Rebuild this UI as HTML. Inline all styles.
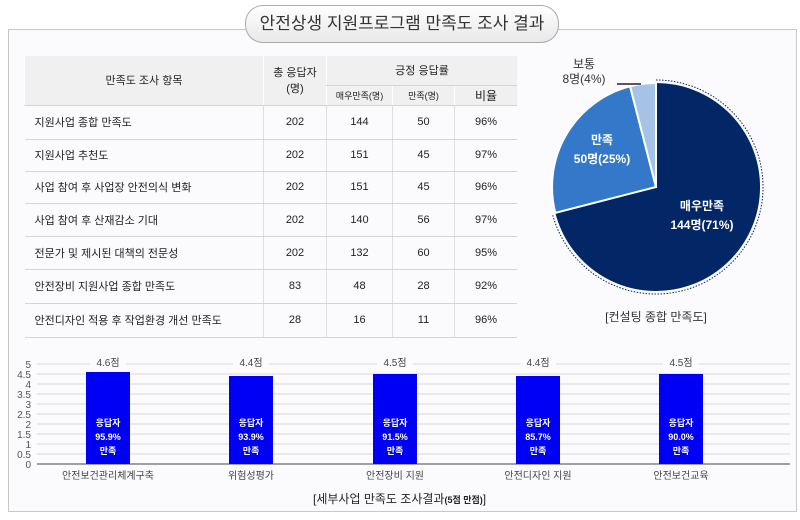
<!DOCTYPE html><html><head><meta charset="utf-8"><style>
body{margin:0;width:800px;height:520px;background:#fff;font-family:"Liberation Sans","Noto Sans CJK KR",sans-serif;position:relative;overflow:hidden}
.frame{position:absolute;left:8px;top:29px;width:787px;height:481px;border:1px solid #c8c8c8;background:#fbfbfd}
.title{position:absolute;left:245px;top:5px;width:312px;height:36px;border:1px solid #aaa;border-radius:18px;background:linear-gradient(#fff,#e8e8e8);text-align:center;line-height:36px;font-size:17px;color:#333}
table{position:absolute;left:24px;top:56px;border-collapse:collapse;font-size:11px;color:#222}
td{border-bottom:1px solid #d4d4d4;border-left:1px solid #e0e0e0;text-align:center;padding:0}
td:first-child{border-left:none}
.h td{background:#f0f0f0;border-left:1px solid #fff}
.l{text-align:left;padding-left:10px}
</style></head><body>
<div class="frame"></div>
<div class="title">안전상생 지원프로그램 만족도 조사 결과</div>
<table>
<tr class="h" style="height:29px"><td rowspan="2" style="width:238px">만족도 조사 항목</td><td rowspan="2" style="width:62px">총 응답자<br>(명)</td><td colspan="3">긍정 응답률</td></tr>
<tr class="h" style="height:20px"><td style="width:65px;font-size:9px">매우만족(명)</td><td style="width:61px;font-size:9px">만족(명)</td><td style="width:62px;font-size:12px">비율</td></tr>
<tr style="height:34px"><td class="l">지원사업 종합 만족도</td><td>202</td><td>144</td><td>50</td><td>96%</td></tr>
<tr style="height:32px"><td class="l">지원사업 추천도</td><td>202</td><td>151</td><td>45</td><td>97%</td></tr>
<tr style="height:32px"><td class="l">사업 참여 후 사업장 안전의식 변화</td><td>202</td><td>151</td><td>45</td><td>96%</td></tr>
<tr style="height:33px"><td class="l">사업 참여 후 산재감소 기대</td><td>202</td><td>140</td><td>56</td><td>97%</td></tr>
<tr style="height:33px"><td class="l">전문가 및 제시된 대책의 전문성</td><td>202</td><td>132</td><td>60</td><td>95%</td></tr>
<tr style="height:34px"><td class="l">안전장비 지원사업 종합 만족도</td><td>83</td><td>48</td><td>28</td><td>92%</td></tr>
<tr style="height:34px"><td class="l">안전디자인 적용 후 작업환경 개선 만족도</td><td>28</td><td>16</td><td>11</td><td>96%</td></tr>
</table>
<svg width="800" height="520" style="position:absolute;left:0;top:0" font-family="Liberation Sans,Noto Sans CJK KR,sans-serif">
<g transform="translate(656,187)">
<path d="M0,0 L0,-104 A104,104 0 1,1 -100.7,25.9 Z" fill="#022666"/>
<path d="M0,0 L-100.7,25.9 A104,104 0 0,1 -25.9,-100.7 Z" fill="#3479c9" stroke="#fff" stroke-width="2"/>
<path d="M0,0 L-25.9,-100.7 A104,104 0 0,1 0,-104 Z" fill="#a6c3e6" stroke="#fff" stroke-width="2"/>
<path d="M0,-107 A107,107 0 1,1 -103.6,26.7" fill="none" stroke="#022666" stroke-dasharray="1.5,1.5"/>
</g>
<text x="702" y="210" fill="#fff" font-size="12" font-weight="bold" text-anchor="middle">매우만족</text>
<text x="702" y="229" fill="#fff" font-size="12" font-weight="bold" text-anchor="middle">144명(71%)</text>
<text x="602" y="144" fill="#fff" font-size="12" font-weight="bold" text-anchor="middle">만족</text>
<text x="602" y="163" fill="#fff" font-size="12" font-weight="bold" text-anchor="middle">50명(25%)</text>
<text x="584" y="68" fill="#333" font-size="12" text-anchor="middle">보통</text>
<text x="584" y="83" fill="#333" font-size="12" text-anchor="middle">8명(4%)</text>
<line x1="617" y1="84" x2="641" y2="84" stroke="#222" stroke-width="1.5"/>
<text x="656" y="321" fill="#333" font-size="12" text-anchor="middle">[컨설팅 종합 만족도]</text>
<g stroke="#d8d8d8">
<line x1="37" x2="790" y1="364" y2="364"/><line x1="37" x2="790" y1="374" y2="374"/><line x1="37" x2="790" y1="384" y2="384"/><line x1="37" x2="790" y1="394" y2="394"/><line x1="37" x2="790" y1="404" y2="404"/><line x1="37" x2="790" y1="414" y2="414"/><line x1="37" x2="790" y1="424" y2="424"/><line x1="37" x2="790" y1="434" y2="434"/><line x1="37" x2="790" y1="444" y2="444"/><line x1="37" x2="790" y1="454" y2="454"/>
</g>
<line x1="37" x2="790" y1="464" y2="464" stroke="#444"/>
<g font-size="10" fill="#555" text-anchor="end">
<text x="31" y="368">5</text><text x="31" y="378">4.5</text><text x="31" y="388">4</text><text x="31" y="398">3.5</text><text x="31" y="408">3</text><text x="31" y="418">2.5</text><text x="31" y="428">2</text><text x="31" y="438">1.5</text><text x="31" y="448">1</text><text x="31" y="458">0.5</text><text x="31" y="468">0</text>
</g>
<g fill="#0000f5">
<rect x="86" y="372" width="44" height="92"/><rect x="229" y="376" width="44" height="88"/><rect x="373" y="374" width="44" height="90"/><rect x="516" y="376" width="44" height="88"/><rect x="659" y="374" width="44" height="90"/>
</g>
<g font-size="10" fill="#444" text-anchor="middle">
<rect x="90" y="355" width="36" height="13" fill="#fbfbfd"/><text x="108" y="366">4.6점</text>
<rect x="233" y="355" width="36" height="13" fill="#fbfbfd"/><text x="251" y="366">4.4점</text>
<rect x="377" y="355" width="36" height="13" fill="#fbfbfd"/><text x="395" y="366">4.5점</text>
<rect x="520" y="355" width="36" height="13" fill="#fbfbfd"/><text x="538" y="366">4.4점</text>
<rect x="663" y="355" width="36" height="13" fill="#fbfbfd"/><text x="681" y="366">4.5점</text>
<text x="108" y="479">안전보건관리체계구축</text><text x="251" y="479">위험성평가</text><text x="395" y="479">안전장비 지원</text><text x="538" y="479">안전디자인 지원</text><text x="681" y="479">안전보건교육</text>
</g>
<g font-size="9" fill="#fff" font-weight="bold" text-anchor="middle">
<text x="108" y="426">응답자</text><text x="108" y="440">95.9%</text><text x="108" y="454">만족</text>
<text x="251" y="426">응답자</text><text x="251" y="440">93.9%</text><text x="251" y="454">만족</text>
<text x="395" y="426">응답자</text><text x="395" y="440">91.5%</text><text x="395" y="454">만족</text>
<text x="538" y="426">응답자</text><text x="538" y="440">85.7%</text><text x="538" y="454">만족</text>
<text x="681" y="426">응답자</text><text x="681" y="440">90.0%</text><text x="681" y="454">만족</text>
</g>
<text x="313" y="503" font-size="12" fill="#222">[세부사업 만족도 조사결과<tspan font-size="9" font-weight="bold">(5점 만점)</tspan>]</text>
</svg>
</body></html>
